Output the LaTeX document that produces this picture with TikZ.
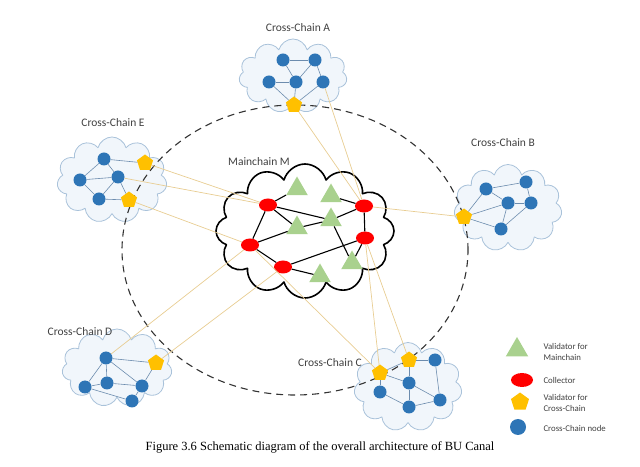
\documentclass[tikz,border=0pt]{standalone}
\usepackage{fontspec}
\setmainfont{Liberation Serif}
\newfontfamily\labelfont{Carlito}
\usetikzlibrary{shapes.geometric,shapes.symbols}
\definecolor{nodeblue}{HTML}{2E75B6}
\definecolor{valgreen}{HTML}{A9D18E}
\definecolor{valyellow}{HTML}{FFC000}
\definecolor{cloudline}{HTML}{A9C2DA}
\definecolor{cloudfill}{HTML}{F1F6FB}
\definecolor{linkcol}{HTML}{6C8CAE}
\definecolor{tancol}{HTML}{E8CD92}
\definecolor{textcol}{HTML}{404040}
\begin{document}
\begin{tikzpicture}[line join=bevel,
  chaincloud/.style={cloud,cloud puffs=11,cloud ignores aspect,draw=cloudline,fill=cloudfill,line width=0.8bp,inner sep=0pt},
  maincloud/.style={cloud,cloud puffs=12,cloud ignores aspect,draw=black,fill=white,line width=1.6bp,inner sep=0pt},
  chainnode/.style={circle,fill=nodeblue,minimum size=13bp,inner sep=0pt},
  chainval/.style={regular polygon,regular polygon sides=5,fill=valyellow,minimum size=17bp,inner sep=0pt},
  mainval/.style={regular polygon,regular polygon sides=3,fill=valgreen,minimum size=25bp,inner sep=0pt},
  collector/.style={ellipse,fill=red,minimum width=18bp,minimum height=13bp,inner sep=0pt},
  chainlabel/.style={font=\labelfont\fontsize{11.5bp}{13bp}\selectfont,text=textcol},
  keytext/.style={font=\labelfont\fontsize{8.8bp}{10.5bp}\selectfont,text=textcol,align=left,anchor=west},
  link/.style={draw=linkcol,line width=0.6bp},
  mainlink/.style={draw=black,line width=1.1bp},
  crosslink/.style={draw=tancol,line width=0.7bp},
]
\useasboundingbox (0bp,0bp) rectangle (640bp,467bp);
%%
  \node (Mcloud) at (305bp,236bp) [maincloud,minimum width=178bp,minimum height=134bp] {};
  \node (Acloud) at (293bp,391bp) [chaincloud,minimum width=108bp,minimum height=74bp] {};
  \node (Ecloud) at (112bp,287bp) [chaincloud,minimum width=110bp,minimum height=86bp] {};
  \node (Bcloud) at (508bp,259bp) [chaincloud,minimum width=108bp,minimum height=87bp] {};
  \node (Dcloud) at (117bp,99bp) [chaincloud,minimum width=110bp,minimum height=78bp] {};
  \node (Ccloud) at (408bp,80bp) [chaincloud,minimum width=108bp,minimum height=89bp] {};
  \draw [dash pattern=on 7bp off 5bp,line width=1.1bp,draw=black!80] (295bp,217bp) ellipse [x radius=173bp,y radius=145bp];
%
  \node (Mlabel) at (259bp,305bp) [chainlabel] {Mainchain M};
  \node (Alabel) at (298bp,439bp) [chainlabel] {Cross-Chain A};
  \node (Elabel) at (113bp,344bp) [chainlabel] {Cross-Chain E};
  \node (Blabel) at (503bp,324bp) [chainlabel] {Cross-Chain B};
  \node (Dlabel) at (80bp,135bp) [chainlabel] {Cross-Chain D};
  \node (Clabel) at (330bp,104bp) [chainlabel] {Cross-Chain C};
%
  \node (R1) at (268bp,262bp) [collector] {};
  \node (R2) at (250bp,222bp) [collector] {};
  \node (R3) at (283bp,200bp) [collector] {};
  \node (R4) at (364bp,261bp) [collector] {};
  \node (R5) at (365bp,229bp) [collector] {};
  \node (G1) at (297bp,278bp) [mainval] {};
  \node (G2) at (331bp,271bp) [mainval] {};
  \node (G3) at (331bp,247bp) [mainval] {};
  \node (G4) at (297bp,239bp) [mainval] {};
  \node (G5) at (352bp,204bp) [mainval] {};
  \node (G6) at (320bp,191bp) [mainval] {};
%
  \node (a1) at (283bp,407bp) [chainnode] {};
  \node (a2) at (315bp,407bp) [chainnode] {};
  \node (a3) at (269bp,385bp) [chainnode] {};
  \node (a4) at (296bp,385bp) [chainnode] {};
  \node (a5) at (323bp,385bp) [chainnode] {};
  \node (pA) at (294bp,362bp) [chainval] {};
  \node (e1) at (104bp,308bp) [chainnode] {};
  \node (e2) at (80bp,287bp) [chainnode] {};
  \node (e3) at (118bp,290bp) [chainnode] {};
  \node (e4) at (99bp,268bp) [chainnode] {};
  \node (pE1) at (145bp,304bp) [chainval] {};
  \node (pE2) at (129bp,267bp) [chainval] {};
  \node (b1) at (486bp,278bp) [chainnode] {};
  \node (b2) at (526bp,285bp) [chainnode] {};
  \node (b3) at (508bp,264bp) [chainnode] {};
  \node (b4) at (531bp,264bp) [chainnode] {};
  \node (b5) at (501bp,238bp) [chainnode] {};
  \node (pB) at (464bp,250bp) [chainval] {};
  \node (d1) at (106bp,109bp) [chainnode] {};
  \node (d2) at (85bp,80bp) [chainnode] {};
  \node (d3) at (107bp,84bp) [chainnode] {};
  \node (d4) at (142bp,81bp) [chainnode] {};
  \node (d5) at (132bp,66bp) [chainnode] {};
  \node (pD) at (156bp,104bp) [chainval] {};
  \node (c1) at (435bp,107bp) [chainnode] {};
  \node (c2) at (409bp,84bp) [chainnode] {};
  \node (c3) at (380bp,75bp) [chainnode] {};
  \node (c4) at (409bp,60bp) [chainnode] {};
  \node (c5) at (440bp,67bp) [chainnode] {};
  \node (pC1) at (380bp,94bp) [chainval] {};
  \node (pC2) at (409bp,107bp) [chainval] {};
%
  \draw [mainlink] (R1) -- (G1);
  \draw [mainlink] (R1) -- (G3);
  \draw [mainlink] (R1) -- (R2);
  \draw [mainlink] (R1) -- (G4);
  \draw [mainlink] (R2) -- (G4);
  \draw [mainlink] (G4) -- (G3);
  \draw [mainlink] (R2) -- (R3);
  \draw [mainlink] (R3) -- (R5);
  \draw [mainlink] (R3) -- (G6);
  \draw [mainlink] (R4) -- (G2);
  \draw [mainlink] (R4) -- (G3);
  \draw [mainlink] (R4) -- (R5);
  \draw [mainlink] (G3) -- (G5);
  \draw [mainlink] (R5) -- (G5);
%
  \draw [link] (a1) -- (a2);
  \draw [link] (a1) -- (a4);
  \draw [link] (a2) -- (a4);
  \draw [link] (a2) -- (a5);
  \draw [link] (a3) -- (a4);
  \draw [link] (a3) -- (pA);
  \draw [link] (a4) -- (pA);
  \draw [link] (a5) -- (pA);
  \draw [link] (e1) -- (pE1);
  \draw [link] (e1) -- (e2);
  \draw [link] (e1) -- (e3);
  \draw [link] (e2) -- (e3);
  \draw [link] (e2) -- (e4);
  \draw [link] (e3) -- (e4);
  \draw [link] (e3) -- (pE2);
  \draw [link] (e4) -- (pE2);
  \draw [link] (pB) -- (b1);
  \draw [link] (pB) -- (b3);
  \draw [link] (pB) -- (b5);
  \draw [link] (b1) -- (b2);
  \draw [link] (b1) -- (b3);
  \draw [link] (b3) -- (b4);
  \draw [link] (b2) -- (b4);
  \draw [link] (b3) -- (b5);
  \draw [link] (b4) -- (b5);
  \draw [link] (d1) -- (pD);
  \draw [link] (d1) -- (d2);
  \draw [link] (d1) -- (d3);
  \draw [link] (d1) -- (d4);
  \draw [link] (d2) -- (d3);
  \draw [link] (d3) -- (d4);
  \draw [link] (d4) -- (pD);
  \draw [link] (d2) -- (d5);
  \draw [link] (d4) -- (d5);
  \draw [link] (pC1) -- (pC2);
  \draw [link] (pC2) -- (c1);
  \draw [link] (pC2) -- (c2);
  \draw [link] (pC1) -- (c2);
  \draw [link] (pC1) -- (c3);
  \draw [link] (c3) -- (c4);
  \draw [link] (c2) -- (c4);
  \draw [link] (c2) -- (c5);
  \draw [link] (c4) -- (c5);
  \draw [link] (c1) -- (c5);
%
  \draw [crosslink] (pA) -- (R4);
  \draw [crosslink] (a5) -- (R4);
  \draw [crosslink] (pB) -- (R4);
  \draw [crosslink] (pE1) -- (R1);
  \draw [crosslink] (e3) -- (R1);
  \draw [crosslink] (pE2) -- (R2);
  \draw [crosslink] (d1) -- (R2);
  \draw [crosslink] (pD) -- (R3);
  \draw [crosslink] (pC1) -- (R5);
  \draw [crosslink] (pC2) -- (R5);
  \draw [crosslink] (pC1) -- (R2);
%
  \node (Kval) at (517bp,117bp) [mainval,minimum size=26bp] {};
  \node (Kcol) at (522bp,87bp) [collector,minimum width=22bp,minimum height=14bp] {};
  \node (Kcval) at (520bp,65bp) [chainval,minimum size=19bp] {};
  \node (Knode) at (518bp,40bp) [chainnode,minimum size=16bp] {};
  \node (Tval) at (540bp,115bp) [keytext] {Validator for\\Mainchain};
  \node (Tcol) at (540bp,87bp) [keytext] {Collector};
  \node (Tcval) at (540bp,64bp) [keytext] {Validator for\\Cross-Chain};
  \node (Tnode) at (540bp,39bp) [keytext] {Cross-Chain node};
%
  \node (caption) at (320bp,20bp) [font=\fontsize{12.5bp}{14bp}\selectfont] {Figure 3.6 Schematic diagram of the overall architecture of BU Canal};
%
\end{tikzpicture}
\end{document}
